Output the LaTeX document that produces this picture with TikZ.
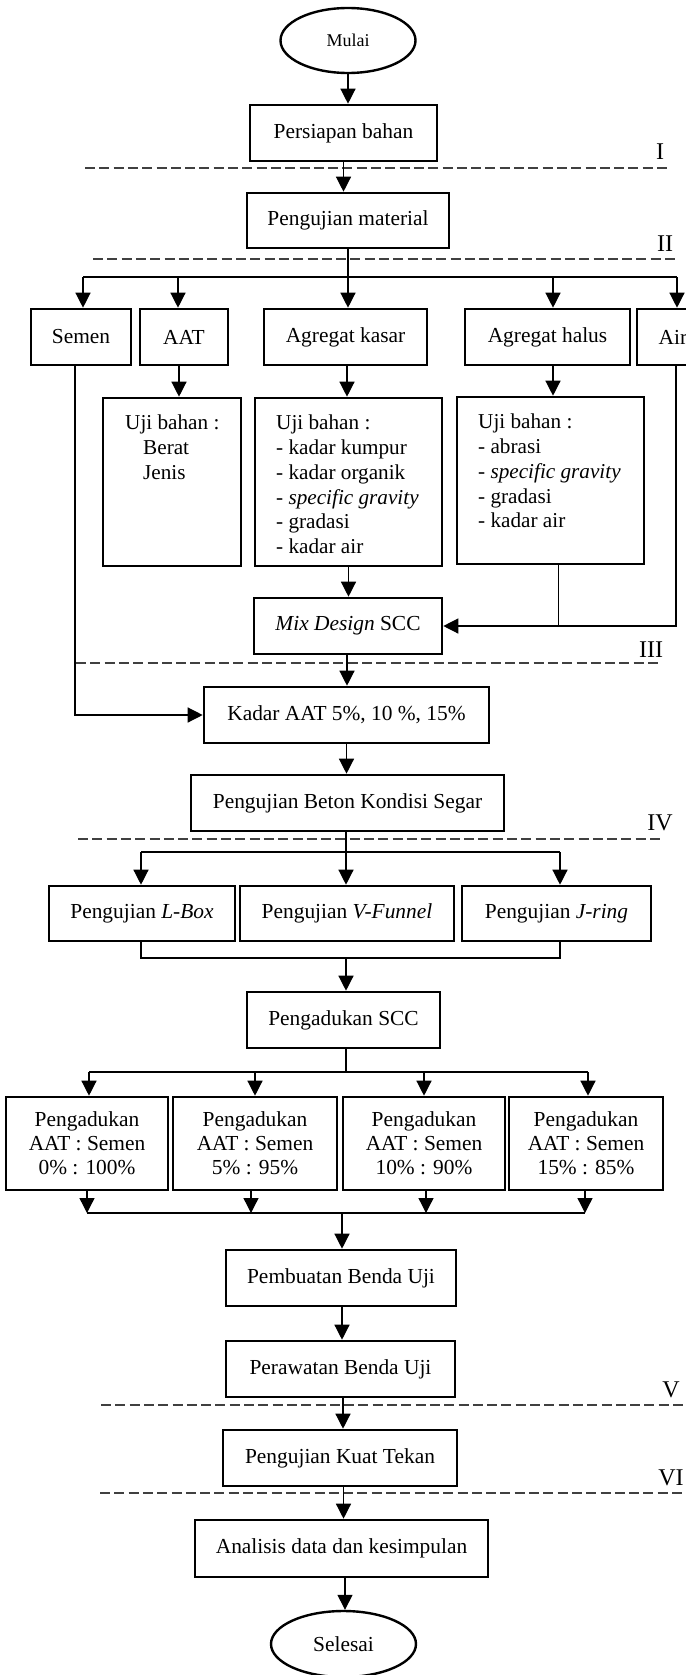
\documentclass[tikz,border=0pt]{standalone}
\usepackage{fontspec}
\setmainfont{Liberation Serif}
\usetikzlibrary{arrows.meta,shapes.geometric,calc}
\begin{document}
\begin{tikzpicture}[x=1pt,y=-1pt,
  box/.style={draw,line width=2.6pt,inner sep=0pt,align=center,font=\fontsize{21.4}{24}\selectfont,minimum height=56pt},
  term/.style={draw,ellipse,line width=2.4pt,inner sep=0pt,font=\fontsize{21.4}{25}\selectfont},
  arr/.style={line width=1.3pt,-{Triangle[width=15pt,length=15pt]}},
  conn/.style={line width=1.3pt},
  sepline/.style={line width=1.4pt,draw=black!75,dash pattern=on 10pt off 4.3pt},
  lbl/.style={inner sep=0pt,font=\fontsize{24}{28}\selectfont},
  txt/.style={inner sep=0pt,align=left,anchor=north west,font=\fontsize{21.2}{24.7}\selectfont},
]
\useasboundingbox (0,0) rectangle (685,1675);

% separators
\draw[sepline] (85,168) -- (668,168);
\draw[sepline] (93,259) -- (675,259);
\draw[sepline] (76,663) -- (660,663);
\draw[sepline] (78,839) -- (661,839);
\draw[sepline] (101,1405) -- (685,1405);
\draw[sepline] (100,1493) -- (685,1493);
\node[lbl] (lI) at (660,152) {I};
\node[lbl] (lII) at (665,244) {II};
\node[lbl] (lIII) at (651,650) {III};
\node[lbl] (lIV) at (660,823) {IV};
\node[lbl] (lV) at (671,1390) {V};
\node[lbl] (lVI) at (671,1478) {VI};

% nodes
\node[term,minimum width=135pt,minimum height=65pt,font=\fontsize{18}{21}\selectfont] (mulai) at (348,40.5) {Mulai};
\node[box,minimum width=187pt] (persiapan) at (343.5,133) {Persiapan bahan};
\node[box,minimum width=202pt,minimum height=55pt] (pengmat) at (348,220.5) {Pengujian material};

\node[box,minimum width=100pt] (semen) at (81,337) {Semen};
\node[box,minimum width=88pt] (aat) at (184,337) {AAT};
\node[box,minimum width=163pt] (kasar) at (345.5,337) {Agregat kasar};
\node[box,minimum width=165pt] (halus) at (547.5,337) {Agregat halus};
\node[box,minimum width=72pt] (air) at (673,337) {Air};

\node[box,minimum width=138pt,minimum height=168pt] (ujiaat) at (172,482) {};
\node[box,minimum width=187pt,minimum height=168pt] (ujikasar) at (348.5,482) {};
\node[box,minimum width=187pt,minimum height=167pt] (ujihalus) at (550.5,480.5) {};
\node[txt] (taat) at (125,415) {Uji bahan :\\\hspace*{18pt}Berat\\\hspace*{18pt}Jenis};
\node[txt] (tkasar) at (276,415) {Uji bahan :\\- kadar kumpur\\- kadar organik\\- \textit{specific gravity}\\- gradasi\\- kadar air};
\node[txt] (thalus) at (478,414) {Uji bahan :\\- abrasi\\- \textit{specific gravity}\\- gradasi\\- kadar air};

\node[box,minimum width=188pt] (mix) at (348,626) {\textit{Mix Design} SCC};
\node[box,minimum width=285pt] (kadar) at (346.5,715) {Kadar AAT 5\%, 10 \%, 15\%};
\node[box,minimum width=313pt] (beton) at (347.5,803) {Pengujian Beton Kondisi Segar};

\node[box,minimum width=186pt,minimum height=55pt] (lbox) at (142,913.5) {Pengujian \textit{L-Box}};
\node[box,minimum width=214pt,minimum height=55pt] (vfun) at (347,913.5) {Pengujian \textit{V-Funnel}};
\node[box,minimum width=189pt,minimum height=55pt] (jring) at (556.5,913.5) {Pengujian \textit{J-ring}};

\node[box,minimum width=193pt] (scc) at (343.5,1020) {Pengadukan SCC};

\node[box,minimum width=162pt,minimum height=93pt] (p1) at (87,1143.5) {Pengadukan\\AAT : Semen\\0\% : 100\%};
\node[box,minimum width=164pt,minimum height=93pt] (p2) at (255,1143.5) {Pengadukan\\AAT : Semen\\5\% : 95\%};
\node[box,minimum width=162pt,minimum height=93pt] (p3) at (424,1143.5) {Pengadukan\\AAT : Semen\\10\% : 90\%};
\node[box,minimum width=154pt,minimum height=93pt] (p4) at (586,1143.5) {Pengadukan\\AAT : Semen\\15\% : 85\%};

\node[box,minimum width=230pt] (pembuatan) at (341,1278) {Pembuatan Benda Uji};
\node[box,minimum width=229pt] (perawatan) at (340.5,1369) {Perawatan Benda Uji};
\node[box,minimum width=234pt] (kuat) at (340,1458) {Pengujian Kuat Tekan};
\node[box,minimum width=293pt,minimum height=57pt] (analisis) at (341.5,1548.5) {Analisis data dan kesimpulan};
\node[term,minimum width=145pt,minimum height=66pt] (selesai) at (343.5,1644) {Selesai};

% connectors top
\draw[arr] (mulai.south) -- (mulai.south |- persiapan.north);
\draw[arr] (persiapan.south) -- (persiapan.south |- pengmat.north);

\coordinate (b1L) at (83,277);
\coordinate (b1a) at (178,277);
\coordinate (b1b) at (553,277);
\coordinate (b1R) at (677,277);
\draw[conn] (b1L) -- (b1R);
\draw[arr] (pengmat.south) -- (pengmat.south |- kasar.north);
\draw[arr] (b1L) -- (b1L |- semen.north);
\draw[arr] (b1a) -- (b1a |- aat.north);
\draw[arr] (b1b) -- (b1b |- halus.north);
\draw[arr] (b1R) -- (b1R |- air.north);

\draw[arr] ([xshift=-5pt]aat.south) -- ([xshift=-5pt]aat.south |- ujiaat.north);
\draw[arr] ([xshift=1.5pt]kasar.south) -- ([xshift=1.5pt]kasar.south |- ujikasar.north);
\draw[arr] ([xshift=5.5pt]halus.south) -- ([xshift=5.5pt]halus.south |- ujihalus.north);

\draw[arr] (ujikasar.south) -- (ujikasar.south |- mix.north);
\draw[conn] ([xshift=8pt]ujihalus.south) -- ([xshift=8pt]ujihalus.south |- mix.east);
\draw[arr] ([xshift=3pt]air.south) |- (mix.east);

\draw[arr] ([xshift=-6pt]semen.south) |- (kadar.west);
\draw[arr] ([xshift=-1pt]mix.south) -- ([xshift=-1pt]mix.south |- kadar.north);
\draw[arr] (kadar.south) -- (kadar.south |- beton.north);

% test bus
\coordinate (b2L) at (141,852);
\coordinate (b2R) at (560,852);
\draw[conn] (b2L) -- (b2R);
\draw[arr] (b2L) -- (b2L |- lbox.north);
\draw[arr] ([xshift=-1.5pt]beton.south) -- ([xshift=-1.5pt]beton.south |- vfun.north);
\draw[arr] (b2R) -- (b2R |- jring.north);

\coordinate (b3L) at (141,958);
\coordinate (b3M) at (346,958);
\coordinate (b3R) at (560,958);
\draw[conn] (b3L |- lbox.south) -- (b3L) -- (b3R) -- (b3R |- jring.south);
\draw[arr] (b3M) -- (b3M |- scc.north);

% mixing bus
\coordinate (b4L) at (89,1072);
\coordinate (b4a) at (255,1072);
\coordinate (b4b) at (424,1072);
\coordinate (b4R) at (588,1072);
\draw[conn] ([xshift=2.5pt]scc.south) -- ([xshift=2.5pt]scc.south |- b4L);
\draw[conn] (b4L) -- (b4R);
\draw[arr] (b4L) -- (b4L |- p1.north);
\draw[arr] (b4a) -- (b4a |- p2.north);
\draw[arr] (b4b) -- (b4b |- p3.north);
\draw[arr] (b4R) -- (b4R |- p4.north);

\coordinate (b5L) at (87,1213);
\coordinate (b5a) at (251,1213);
\coordinate (b5b) at (426,1213);
\coordinate (b5R) at (585,1213);
\coordinate (b5M) at (342,1213);
\draw[conn] (b5L) -- (b5R);
\draw[arr] (b5L |- p1.south) -- (b5L);
\draw[arr] (b5a |- p2.south) -- (b5a);
\draw[arr] (b5b |- p3.south) -- (b5b);
\draw[arr] (b5R |- p4.south) -- (b5R);
\draw[arr] (b5M) -- (b5M |- pembuatan.north);

\draw[arr] ([xshift=1pt]pembuatan.south) -- ([xshift=1pt]pembuatan.south |- perawatan.north);
\draw[arr] ([xshift=2.5pt]perawatan.south) -- ([xshift=2.5pt]perawatan.south |- kuat.north);
\draw[arr] ([xshift=3.5pt]kuat.south) -- ([xshift=3.5pt]kuat.south |- analisis.north);
\draw[arr] ([xshift=3.5pt]analisis.south) -- ([xshift=3.5pt]analisis.south |- selesai.north);
\end{tikzpicture}
\end{document}
